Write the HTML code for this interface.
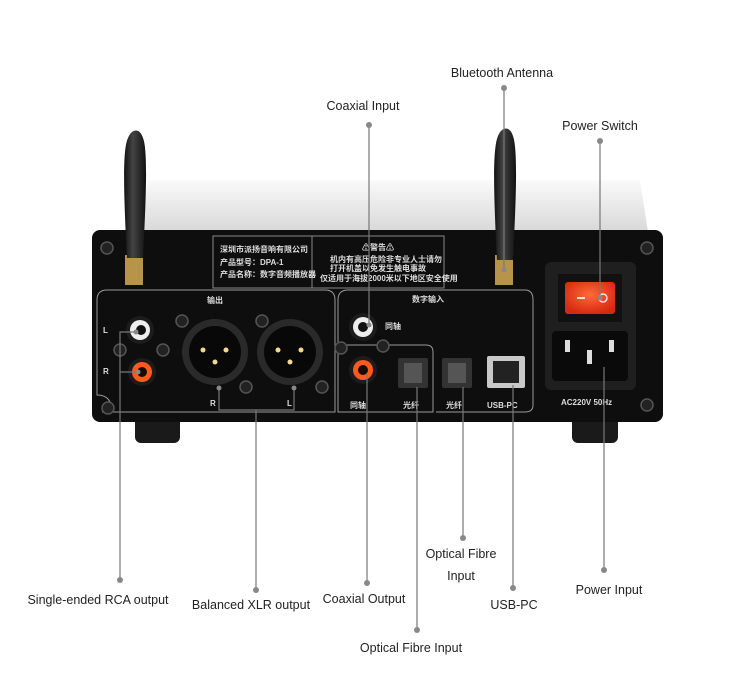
<!DOCTYPE html>
<html><head><meta charset="utf-8"><style>
html,body{margin:0;padding:0;background:#fff;width:750px;height:683px;overflow:hidden}
svg{display:block}
text{font-family:"Liberation Sans",sans-serif;font-size:12.5px;fill:#222}
.cn{font-family:"Liberation Sans","Noto Sans CJK SC",sans-serif;fill:#ddd;font-size:8px;font-weight:bold}
.ln{stroke:#777;stroke-width:1.2;fill:none}
.dot{fill:#888}
.scr{fill:#222;stroke:#555;stroke-width:1.5}
</style></head><body>
<svg width="750" height="683" viewBox="0 0 750 683">
<defs>
<linearGradient id="lid" x1="0" y1="0" x2="0" y2="1"><stop offset="0" stop-color="#fafafa"/><stop offset="1" stop-color="#d8d8d8"/></linearGradient>
<linearGradient id="ant" x1="0" y1="0" x2="1" y2="0"><stop offset="0" stop-color="#111"/><stop offset=".4" stop-color="#444"/><stop offset="1" stop-color="#111"/></linearGradient>
<radialGradient id="red" cx=".5" cy=".4" r=".6"><stop offset="0" stop-color="#ff6a3a"/><stop offset="1" stop-color="#d62a10"/></radialGradient>
</defs>
<path d="M148 180 L640 180 L648 232 L140 232 Z" fill="url(#lid)"/>
<rect x="135" y="415" width="45" height="28" rx="6" fill="#1a1a1a"/>
<rect x="572" y="415" width="46" height="28" rx="6" fill="#1a1a1a"/>
<rect x="92" y="230" width="571" height="192" rx="8" fill="#0e0e0e"/>
<rect x="213" y="236" width="231" height="52" fill="none" stroke="#888" stroke-width="1"/>
<line x1="312" y1="236" x2="312" y2="288" stroke="#888"/>
<text class="cn" x="220" y="252" font-size="7">深圳市派扬音响有限公司</text>
<text class="cn" x="220" y="265" font-size="7">产品型号：DPA-1</text>
<text class="cn" x="220" y="277" font-size="7">产品名称：数字音频播放器</text>
<text class="cn" x="362" y="250" font-size="7">⚠警告⚠</text>
<text class="cn" x="330" y="262" font-size="5">机内有高压危险非专业人士请勿</text>
<text class="cn" x="330" y="271" font-size="5">打开机盖以免发生触电事故</text>
<text class="cn" x="320" y="281" font-size="5">仅适用于海拔2000米以下地区安全使用</text>
<rect x="125" y="255" width="18" height="30" fill="#b8934a"/>
<path d="M127 258 C124 200 122 150 128 138 C132 128 140 128 143 138 C148 150 146 200 143 258 Z" fill="url(#ant)"/>
<rect x="495" y="255" width="18" height="30" fill="#b8934a"/>
<path d="M497 260 C494 200 492 150 498 136 C502 126 510 126 513 136 C518 150 516 200 513 260 Z" fill="url(#ant)"/>
<path d="M102 412 L335 412 L335 300 Q335 290 325 290 L107 290 Q97 290 97 300 L97 395 Q112 395 112 412" fill="none" stroke="#999" stroke-width="1"/>
<path d="M338 345 L338 300 Q338 290 348 290 L525 290 Q533 290 533 300 L533 405 Q533 412 525 412 L436 412" fill="none" stroke="#999" stroke-width="1"/>
<path d="M345 345 L426 345 Q433 345 433 352 L433 412 L338 412 L338 345" fill="none" stroke="#999" stroke-width="1"/>
<text class="cn" x="207" y="303" font-size="10">输出</text>
<text class="cn" x="412" y="302" font-size="10">数字输入</text>
<text class="cn" x="103" y="333">L</text><text class="cn" x="103" y="374">R</text>
<text class="cn" x="210" y="406">R</text><text class="cn" x="287" y="406">L</text>
<text class="cn" x="385" y="329" font-size="10">同轴</text>
<text class="cn" x="350" y="408" font-size="10">同轴</text>
<text class="cn" x="403" y="408" font-size="10">光纤</text>
<text class="cn" x="446" y="408" font-size="10">光纤</text>
<text class="cn" x="487" y="408" font-size="10">USB-PC</text>
<text class="cn" x="561" y="405" font-size="9">AC220V 50Hz</text>
<g>
<circle class="scr" cx="107" cy="248" r="6"/><circle class="scr" cx="647" cy="248" r="6"/>
<circle class="scr" cx="108" cy="408" r="6"/><circle class="scr" cx="647" cy="405" r="6"/>
<circle class="scr" cx="120" cy="350" r="6"/><circle class="scr" cx="163" cy="350" r="6"/>
<circle class="scr" cx="182" cy="321" r="6"/><circle class="scr" cx="262" cy="321" r="6"/>
<circle class="scr" cx="246" cy="387" r="6"/><circle class="scr" cx="322" cy="387" r="6"/>
<circle class="scr" cx="341" cy="348" r="6"/><circle class="scr" cx="383" cy="346" r="6"/>
</g>
<circle cx="140" cy="330" r="14" fill="#1c1c1c"/><circle cx="140" cy="330" r="10" fill="#eee"/><circle cx="141" cy="330" r="5" fill="#111"/>
<circle cx="142" cy="372" r="14" fill="#1c1c1c"/><circle cx="142" cy="372" r="10" fill="#ff5a1e"/><circle cx="142" cy="372" r="5" fill="#1a0a05"/>
<circle cx="363" cy="327" r="14" fill="#1c1c1c"/><circle cx="363" cy="327" r="10" fill="#eee"/><circle cx="363" cy="327" r="5" fill="#111"/>
<circle cx="363" cy="370" r="14" fill="#1c1c1c"/><circle cx="363" cy="370" r="10" fill="#ff5a1e"/><circle cx="363" cy="370" r="5" fill="#1a0a05"/>
<g><circle cx="215" cy="352" r="33" fill="#2a2a2a"/><circle cx="215" cy="352" r="26" fill="#080808"/>
<circle cx="203" cy="350" r="2.5" fill="#f2d890"/><circle cx="226" cy="350" r="2.5" fill="#f2d890"/><circle cx="215" cy="362" r="2.5" fill="#f2d890"/></g>
<g><circle cx="290" cy="352" r="33" fill="#2a2a2a"/><circle cx="290" cy="352" r="26" fill="#080808"/>
<circle cx="278" cy="350" r="2.5" fill="#f2d890"/><circle cx="301" cy="350" r="2.5" fill="#f2d890"/><circle cx="290" cy="362" r="2.5" fill="#f2d890"/></g>
<rect x="398" y="358" width="30" height="30" rx="2" fill="#333"/><rect x="404" y="363" width="18" height="20" fill="#555"/>
<rect x="442" y="358" width="30" height="30" rx="2" fill="#333"/><rect x="448" y="363" width="18" height="20" fill="#555"/>
<rect x="487" y="356" width="38" height="32" rx="2" fill="#c8c8c8"/><rect x="493" y="361" width="26" height="22" fill="#222"/>
<rect x="545" y="262" width="91" height="128" rx="6" fill="#1f1f1f"/>
<rect x="558" y="274" width="64" height="48" fill="#111"/>
<rect x="565" y="282" width="50" height="32" rx="3" fill="url(#red)"/>
<line x1="577" y1="298" x2="585" y2="298" stroke="#fdd" stroke-width="2"/><circle cx="603" cy="298" r="4" fill="none" stroke="#fdd" stroke-width="1.5"/>
<rect x="552" y="331" width="76" height="50" rx="4" fill="#0a0a0a"/>
<rect x="565" y="340" width="5" height="12" fill="#ddd"/><rect x="609" y="340" width="5" height="12" fill="#ddd"/><rect x="587" y="350" width="5" height="14" fill="#ddd"/>
<g class="ln">
<line x1="504" y1="88" x2="504" y2="270"/>
<line x1="369" y1="125" x2="369" y2="325"/>
<line x1="600" y1="141" x2="600" y2="298"/>
<polyline points="120,580 120,332 136,332"/>
<polyline points="120,372 138,372"/>
<line x1="256" y1="590" x2="256" y2="410"/>
<polyline points="219,388 219,410 294,410 294,388"/>
<line x1="367" y1="583" x2="367" y2="373"/>
<line x1="417" y1="630" x2="417" y2="387"/>
<line x1="463" y1="538" x2="463" y2="387"/>
<line x1="513" y1="588" x2="513" y2="385"/>
<line x1="604" y1="570" x2="604" y2="367"/>
</g>
<g class="dot">
<circle cx="504" cy="88" r="3"/><circle cx="369" cy="125" r="3"/><circle cx="600" cy="141" r="3"/>
<circle cx="120" cy="580" r="3"/><circle cx="256" cy="590" r="3"/><circle cx="367" cy="583" r="3"/>
<circle cx="417" cy="630" r="3"/><circle cx="463" cy="538" r="3"/><circle cx="513" cy="588" r="3"/><circle cx="604" cy="570" r="3"/>
<circle cx="136" cy="332" r="2.5"/><circle cx="138" cy="372" r="2.5"/><circle cx="219" cy="388" r="2.5"/><circle cx="294" cy="388" r="2.5"/>
<circle cx="369" cy="325" r="2.5"/><circle cx="504" cy="270" r="2.5"/><circle cx="600" cy="298" r="2.5"/>
</g>
<g text-anchor="middle">
<text x="502" y="77">Bluetooth Antenna</text>
<text x="363" y="110">Coaxial Input</text>
<text x="600" y="130">Power Switch</text>
<text x="98" y="604">Single-ended RCA output</text>
<text x="251" y="609">Balanced XLR output</text>
<text x="364" y="603">Coaxial Output</text>
<text x="411" y="652">Optical Fibre Input</text>
<text x="461" y="558">Optical Fibre</text>
<text x="461" y="580">Input</text>
<text x="514" y="609">USB-PC</text>
<text x="609" y="594">Power Input</text>
</g>
</svg>
</body></html>
